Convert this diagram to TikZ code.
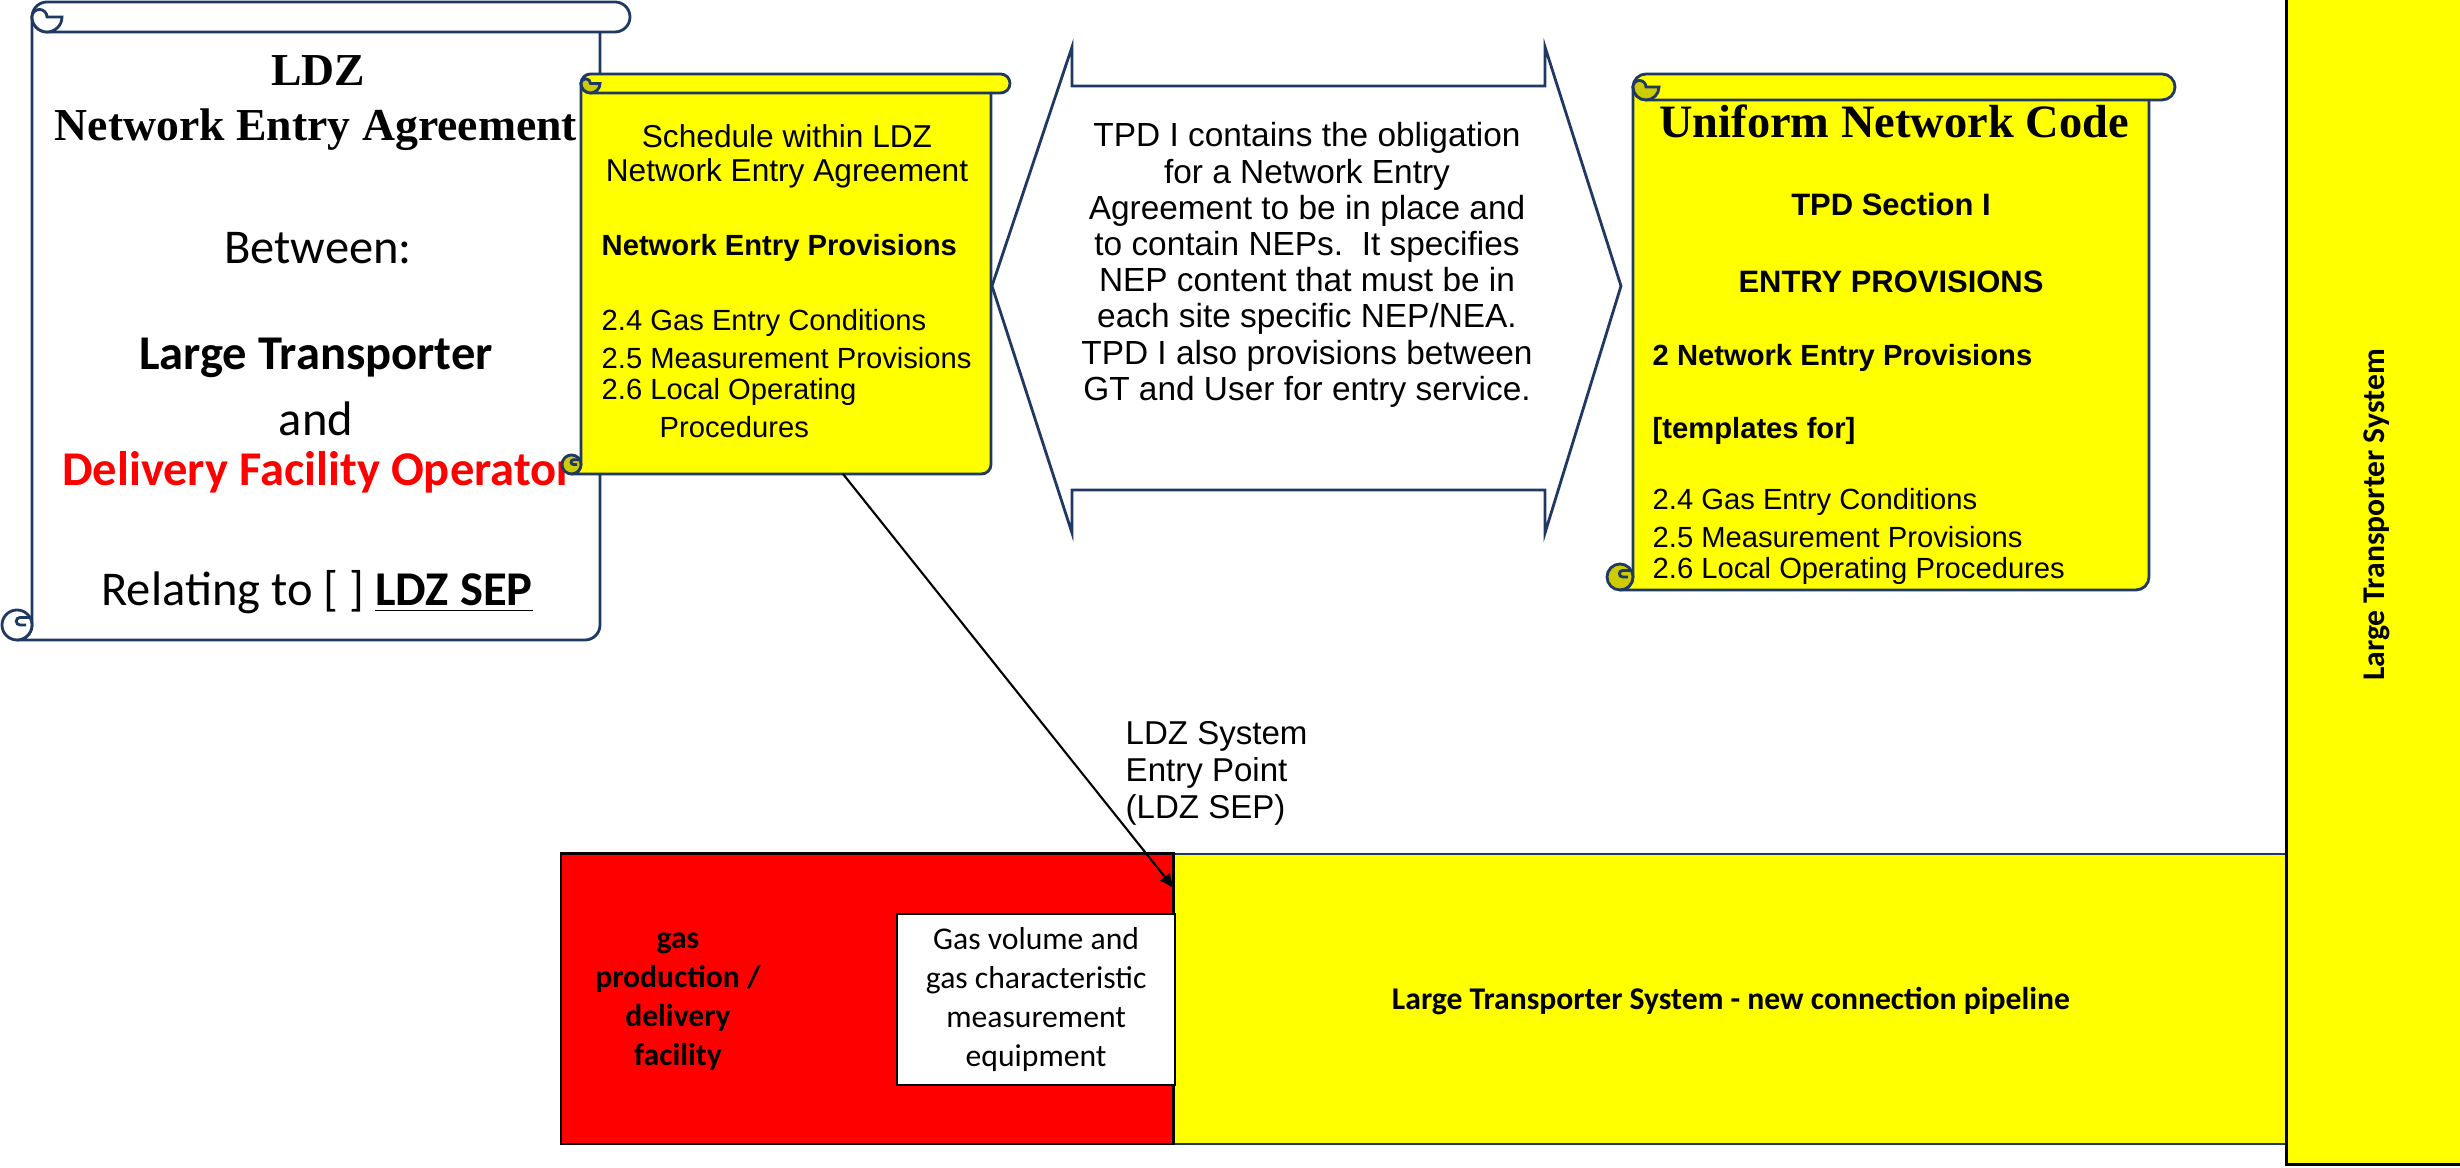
\documentclass[tikz,border=0pt]{standalone}
\usepackage{fontspec}
\usepackage{tikz}
\usetikzlibrary{arrows.meta, calc}
\newfontfamily\calibri{Carlito}
\newfontfamily\arial{Liberation Sans}
\newfontfamily\oldtitle{Liberation Serif}
\definecolor{scrollnavy}{RGB}{31,56,100}
\definecolor{docyellow}{RGB}{255,255,0}
\definecolor{curlolive}{RGB}{204,204,0}
\definecolor{facilityred}{RGB}{255,0,0}
\tikzset{
   scrollline/.style={draw=scrollnavy, line width=0.8pt},
   txt/.style={inner sep=0pt},
   agreetxt/.style={txt, font=\calibri\fontsize{13.8}{16}\selectfont},
   gothtxt/.style={txt, font=\oldtitle\bfseries\fontsize{13}{16}\selectfont},
   ariatxt/.style={txt, font=\arial\fontsize{8.3}{10}\selectfont},
   ariabold/.style={txt, font=\arial\bfseries\fontsize{8.3}{10}\selectfont},
   boxtxt/.style={txt, align=center, font=\calibri\fontsize{9}{11.1}\selectfont},
}
% scroll: left, top, right, bottom, roll size, fill, curl fill
\newcommand{\docscroll}[7]{%
   \draw[scrollline, fill=#6] ({#1+#5},{#2-#5/2}) -- ({#1+#5},{#4+#5/2})
      arc[start angle=0, end angle=-90, radius={#5/2}] -- ({#3-1.5*#5},{#4})
      arc[start angle=-90, end angle=0, radius={#5/2}] -- ({#3-#5},{#2-#5/2}) -- cycle;
   \draw[scrollline, fill=#7] ({#1+#5/2},{#4+#5/2}) circle[radius={#5/2}];
   \draw[scrollline] ({#1+#5},{#4+0.75*#5}) -- ({#1+0.6*#5},{#4+0.75*#5})
      arc[start angle=90, end angle=270, radius={#5/8}] -- ({#1+0.8*#5},{#4+0.5*#5});
   \draw[scrollline, fill=#6] ({#1+1.5*#5},{#2}) -- ({#3-#5/2},{#2})
      arc[start angle=90, end angle=-90, radius={#5/2}] -- ({#1+1.5*#5},{#2-#5})
      arc[start angle=270, end angle=90, radius={#5/2}] -- cycle;
   \draw[scrollline, fill=#7] ({#1+2*#5},{#2-#5/2})
      arc[start angle=0, end angle=-180, radius={#5/2}]
      arc[start angle=180, end angle=0, radius={#5/4}] -- cycle;
}

\begin{document}
\begin{tikzpicture}[x=0.01cm, y=0.01cm]
   \useasboundingbox (0,0) rectangle (2460,1168);

   % agreement scroll
   \docscroll{2}{1166}{630}{528}{30}{white}{white}
   \node[gothtxt] (ldz) at (318,1097) {LDZ};
   \node[gothtxt] (nea) at (316,1038) {Network Entry Agreement};
   \node[agreetxt] (between) at (318,920) {Between:};
   \node[agreetxt, font=\calibri\bfseries\fontsize{13.8}{16}\selectfont] (lt) at (316,810) {Large Transporter};
   \node[agreetxt] (and) at (316,749) {and};
   \node[agreetxt, text=facilityred, font=\calibri\bfseries\fontsize{13.8}{16}\selectfont] (dfo) at (318,696) {Delivery Facility Operator};
   \node[agreetxt] (relating) at (317,576) {Relating to [ ] \underline{\textbf{LDZ SEP}}};

   % schedule scroll
   \docscroll{562}{1094}{1010}{694}{19}{docyellow}{curlolive}
   \node[ariatxt, font=\arial\fontsize{9}{10}\selectfont] (sched) at (787,1032) {Schedule within LDZ};
   \node[ariatxt, font=\arial\fontsize{9}{10}\selectfont] (schednea) at (787,995) {Network Entry Agreement};
   \node[ariabold, anchor=west] (nep) at (601,920) {Network Entry Provisions};
   \node[ariatxt, anchor=west] (gec) at (601,845) {2.4 Gas Entry Conditions};
   \node[ariatxt, anchor=west] (mp) at (601,810) {2.5 Measurement Provisions};
   \node[ariatxt, anchor=west] (lop) at (601,776) {2.6 Local Operating};
   \node[ariatxt, anchor=west] (proc) at (659,741) {Procedures};
   \coordinate (schedfoot) at (843,694);

   % double arrow between the documents
   \draw[scrollline, fill=white] (992,882) -- (1072,1121) -- (1072,1082) -- (1545,1082)
      -- (1545,1121) -- (1621,882) -- (1545,635) -- (1545,678) -- (1072,678)
      -- (1072,635) -- cycle;
   \node[txt, align=center, font=\arial\fontsize{9.5}{10.3}\selectfont] (tpdnote) at (1307,903)
      {TPD I contains the obligation\\for a Network Entry\\Agreement to be in place and\\
       to contain NEPs.\ \ It specifies\\NEP content that must be in\\each site specific NEP/NEA.\\
       TPD I also provisions between\\GT and User for entry service.};

   % network code scroll
   \docscroll{1607}{1094}{2175}{578}{26}{docyellow}{curlolive}
   \node[gothtxt, font=\oldtitle\bfseries\fontsize{13.2}{16}\selectfont] (unc) at (1894,1047) {Uniform Network Code};
   \node[ariabold, font=\arial\bfseries\fontsize{8.8}{10}\selectfont] (tpd) at (1891,964) {TPD Section I};
   \node[ariabold, font=\arial\bfseries\fontsize{8.8}{10}\selectfont] (entry) at (1891,886) {ENTRY PROVISIONS};
   \node[ariabold, anchor=west] (nep2) at (1652,810) {2 Network Entry Provisions};
   \node[ariabold, anchor=west] (tmpl) at (1652,737) {[templates for]};
   \node[ariatxt, anchor=west] (gec2) at (1652,666) {2.4 Gas Entry Conditions};
   \node[ariatxt, anchor=west] (mp2) at (1652,631) {2.5 Measurement Provisions};
   \node[ariatxt, anchor=west] (lop2) at (1652,597) {2.6 Local Operating Procedures};

   % pipeline and plant
   \node[draw=scrollnavy, line width=0.6pt, fill=docyellow, anchor=south west,
      minimum width=11.13cm, minimum height=2.9cm] (pipe) at (1172,23) {};
   \node[draw=black, line width=0.7pt, fill=facilityred, anchor=south west,
      minimum width=6.12cm, minimum height=2.9cm] (plant) at (560,23) {};
   \node[draw=black, line width=0.6pt, fill=white, anchor=south west,
      minimum width=2.78cm, minimum height=1.71cm] (meter) at (896,82) {};
   \node[draw=black, line width=0.9pt, fill=docyellow, anchor=south west,
      minimum width=1.9cm, minimum height=11.8cm] (lts) at (2285,2) {};
   \node[boxtxt, font=\calibri\bfseries\fontsize{9}{11.1}\selectfont] (gas) at (678,166)
      {gas\\production /\\delivery\\facility};
   \node[boxtxt] (metertxt) at (meter.center) {Gas volume and\\gas characteristic\\measurement\\equipment};
   \node[boxtxt, font=\calibri\bfseries\fontsize{9}{11.1}\selectfont] (pipetxt) at (1731,167)
      {Large Transporter System - new connection pipeline};
   \node[boxtxt, font=\calibri\bfseries\fontsize{9}{11.1}\selectfont, rotate=90] (ltstxt) at (2377,653)
      {Large Transporter System};

   % entry point
   \node[txt, anchor=west, align=left, font=\arial\fontsize{9.4}{10.5}\selectfont] (seplabel) at (1125,395)
      {LDZ System\\Entry Point\\(LDZ SEP)};
   \coordinate (sep) at ([yshift=-0.37cm]plant.north east);
   \draw[-{Latex[length=1.6mm, width=1.3mm]}, line width=0.6pt] (schedfoot) -- (sep);
\end{tikzpicture}
\end{document}
